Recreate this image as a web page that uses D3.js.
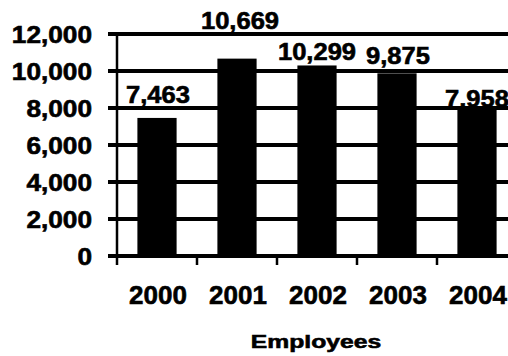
<!DOCTYPE html>
<html>
<head>
<meta charset="utf-8">
<script src="https://cdn.jsdelivr.net/npm/d3@7"></script>
<style>
  html, body { margin: 0; padding: 0; background: #fff; }
  svg { display: block; }
  text { font-family: "Liberation Sans", Arial, Helvetica, sans-serif; font-weight: bold; fill: #000; stroke: #000; stroke-width: 0.6px; }
</style>
</head>
<body>
<svg id="chart" width="508" height="356"></svg>
<script>
// Employees per year
const years = ["2000", "2001", "2002", "2003", "2004"];
const employees = [7463, 10669, 10299, 9875, 7958];
const yTicks = [0, 2000, 4000, 6000, 8000, 10000, 12000];
const axisTitle = "Employees";

const W = 508, H = 356;
const svg = d3.select("#chart");

const plot = { left: 117, top: 34, bottom: 256, right: 517 };

const x = d3.scaleBand()
  .domain(years)
  .range([plot.left, plot.right])
  .paddingInner(0.51)
  .paddingOuter(0.255);

const y = d3.scaleLinear()
  .domain([0, 12000])
  .range([plot.bottom, plot.top]);

const fmt = d3.format(",");
const step = x.step();

// horizontal grid rules as one path, each starting with a short tick left of the axis
const gridPath = d3.path();
yTicks.forEach(t => {
  gridPath.moveTo(plot.left - 9, y(t));
  gridPath.lineTo(W + 2, y(t));
});
svg.append("path")
  .attr("d", gridPath.toString())
  .attr("fill", "none")
  .attr("stroke", "#000")
  .attr("stroke-width", 4);

// bars
svg.append("g")
  .selectAll("rect")
  .data(years)
  .join("rect")
  .attr("x", d => x(d))
  .attr("width", x.bandwidth())
  .attr("y", (d, i) => y(employees[i]))
  .attr("height", (d, i) => y(0) - y(employees[i]))
  .attr("fill", "#000");

// vertical axis line
svg.append("rect")
  .attr("x", plot.left - 1.25).attr("width", 2.5)
  .attr("y", plot.top - 1).attr("height", plot.bottom + 9 - (plot.top - 1))
  .attr("fill", "#000");

// category boundary ticks under the baseline
svg.append("g")
  .selectAll("rect")
  .data(d3.range(1, years.length))
  .join("rect")
  .attr("x", i => plot.left + i * step - 1.25)
  .attr("width", 2.5)
  .attr("y", plot.bottom)
  .attr("height", 9)
  .attr("fill", "#000");

// y tick labels
svg.append("g")
  .selectAll("text")
  .data(yTicks)
  .join("text")
  .attr("transform", d => `translate(92,${y(d) + 8.5}) scale(1.14,1)`)
  .attr("text-anchor", "end")
  .style("font-size", "23px")
  .text(d => fmt(d));

// year labels
svg.append("g")
  .selectAll("text")
  .data(years)
  .join("text")
  .attr("transform", d => `translate(${x(d) + x.bandwidth() / 2 + 1},304) scale(1.02,1)`)
  .attr("text-anchor", "middle")
  .style("font-size", "25.5px")
  .text(d => d);

// value labels, lifted individually above each bar
const labelLift = [15, 29.5, 5.5, 9.5, 2];
const labelShift = [1, 3, 0, 1, 0];
svg.append("g")
  .selectAll("text")
  .data(years)
  .join("text")
  .attr("transform", (d, i) =>
    `translate(${x(d) + x.bandwidth() / 2 + labelShift[i]},${y(employees[i]) - labelLift[i]}) scale(1.11,1)`)
  .attr("text-anchor", "middle")
  .style("font-size", "23px")
  .text((d, i) => fmt(employees[i]));

// axis title
svg.append("text")
  .attr("transform", "translate(316,348) scale(1.3,1)")
  .attr("text-anchor", "middle")
  .style("font-size", "19px")
  .text(axisTitle);
</script>
</body>
</html>
